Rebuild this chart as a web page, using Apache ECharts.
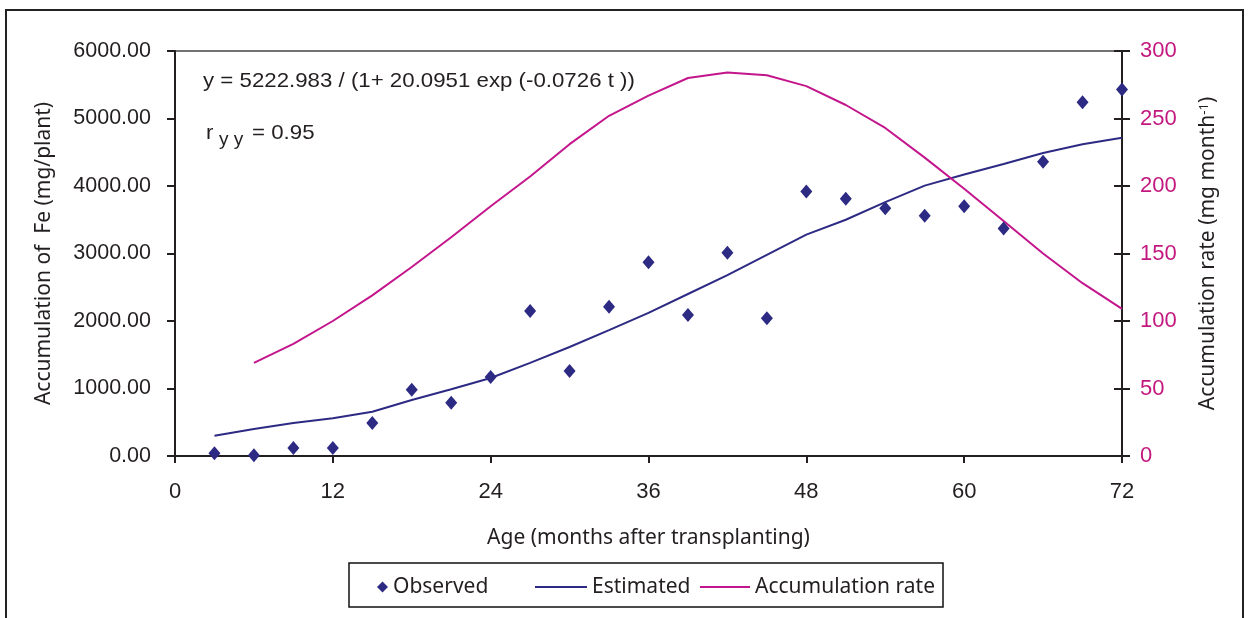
<!DOCTYPE html>
<html>
<head>
<meta charset="utf-8">
<script src="https://cdn.jsdelivr.net/npm/echarts@6/dist/echarts.min.js"></script>
<style>
html,body{margin:0;padding:0;background:#fff;}
#chart{width:1248px;height:618px;}
</style>
</head>
<body>
<div id="chart"></div>
<script>
// Age (months after transplanting)
const ages = [3, 6, 9, 12, 15, 18, 21, 24, 27, 30, 33, 36, 39, 42, 45, 48, 51, 54, 57, 60, 63, 66, 69, 72];
// Observed accumulation of Fe (mg/plant)
const observed = [40, 10, 120, 120, 490, 980, 790, 1170, 2150, 1260, 2210, 2870, 2090, 3010, 2040, 3920, 3810, 3670, 3560, 3700, 3370, 4360, 5240, 5430];
// Estimated accumulation of Fe (mg/plant)
const estimated = [300, 400, 490, 560, 655, 830, 990, 1155, 1380, 1615, 1865, 2120, 2400, 2680, 2980, 3280, 3500, 3760, 4005, 4170, 4325, 4490, 4620, 4715];
// Accumulation rate (mg month-1), starts at 6 months
const rate = [null, 69, 83, 100, 119, 140, 162, 185, 207, 231, 252, 267, 280, 284, 282, 274, 260, 243, 221, 198, 174, 150, 128, 109];
const xTicks = [0, 12, 24, 36, 48, 60, 72];
const leftTicks = [0, 1000, 2000, 3000, 4000, 5000, 6000];
const rightTicks = [0, 50, 100, 150, 200, 250, 300];

const NAVY = '#2d2a84';
const MAGENTA = '#c4168c';
const MAGENTA_TXT = '#c2187f';
const INK = '#231f20';
const ARIAL = '"Liberation Sans", Arial, sans-serif';
const MYRIAD = '"Noto Sans", "Open Sans", sans-serif';

const pairs = (ys) => ages.map((a, i) => [a, ys[i]]);

const chart = echarts.init(document.getElementById('chart'), null, {renderer: 'canvas'});
chart.setOption({
  animation: false,
  backgroundColor: '#fff',
  grid: {left: 175, right: 126, top: 51, bottom: 162, show: true, borderColor: '#444', borderWidth: 1.5, backgroundColor: 'transparent'},
  xAxis: {
    type: 'value', min: xTicks[0], max: xTicks[xTicks.length - 1], interval: 12,
    name: 'Age (months after transplanting)', nameLocation: 'middle', nameGap: 72,
    nameTextStyle: {fontFamily: MYRIAD, fontSize: 21, color: INK},
    axisLine: {lineStyle: {color: INK, width: 2}},
    axisTick: {inside: false, length: 7, lineStyle: {color: INK, width: 2}},
    axisLabel: {margin: 25, fontFamily: ARIAL, fontSize: 22, color: INK},
    splitLine: {show: false}
  },
  yAxis: [
    {
      type: 'value', position: 'left', min: leftTicks[0], max: leftTicks[leftTicks.length - 1], interval: 1000,
      name: 'Accumulation of  Fe (mg/plant)', nameLocation: 'middle', nameGap: 120, nameRotate: 90,
      nameTextStyle: {fontFamily: MYRIAD, fontSize: 21, color: INK},
      axisLine: {show: true, lineStyle: {color: INK, width: 2}},
      axisTick: {show: true, inside: false, length: 8, lineStyle: {color: INK, width: 2}},
      axisLabel: {margin: 24, fontFamily: ARIAL, fontSize: 21.5, color: INK, formatter: v => v.toFixed(2)},
      splitLine: {show: false}
    },
    {
      type: 'value', position: 'right', min: rightTicks[0], max: rightTicks[rightTicks.length - 1], interval: 50,
      name: 'Accumulation rate (mg month{sup|-1})', nameLocation: 'middle', nameGap: 76, nameRotate: 90,
      nameTextStyle: {fontFamily: MYRIAD, fontSize: 21, color: INK,
        rich: {sup: {fontFamily: MYRIAD, fontSize: 13, color: INK, verticalAlign: 'top', padding: [0, 0, 8, 0]}}},
      axisLine: {show: true, lineStyle: {color: INK, width: 2}},
      axisTick: {show: true, inside: false, length: 8, lineStyle: {color: INK, width: 2}},
      axisLabel: {margin: 18, fontFamily: ARIAL, fontSize: 22, color: MAGENTA_TXT},
      splitLine: {show: false}
    },
    {
      type: 'value', position: 'right', min: rightTicks[0], max: rightTicks[rightTicks.length - 1], interval: 50,
      axisLine: {show: false},
      axisTick: {show: true, inside: true, length: 8, lineStyle: {color: INK, width: 2}},
      axisLabel: {show: false},
      splitLine: {show: false}
    }
  ],
  legend: [
    {data: [{name: 'Observed', icon: 'diamond'}], left: 377, top: 575, padding: 0, itemWidth: 11, itemHeight: 11,
      itemStyle: {opacity: 1},
      textStyle: {fontFamily: MYRIAD, fontSize: 21, color: INK, lineHeight: 24}},
    {data: [{name: 'Estimated', icon: 'rect'}], left: 535, top: 575, padding: 0, itemWidth: 52, itemHeight: 2,
      textStyle: {fontFamily: MYRIAD, fontSize: 21, color: INK, lineHeight: 24}},
    {data: [{name: 'Accumulation rate', icon: 'rect'}], left: 700, top: 575, padding: 0, itemWidth: 50, itemHeight: 2,
      textStyle: {fontFamily: MYRIAD, fontSize: 21, color: INK, lineHeight: 24}}
  ],
  graphic: [
    {type: 'rect', shape: {x: 6, y: 10, width: 1237, height: 640}, style: {fill: 'none', stroke: '#222', lineWidth: 2}, silent: true},
    {type: 'rect', shape: {x: 349, y: 563, width: 594, height: 44}, style: {fill: 'none', stroke: '#111', lineWidth: 1.5}, silent: true},
    {type: 'text', x: 203, y: 81, scaleX: 1.06, style: {text: 'y = 5222.983 / (1+ 20.0951 exp (-0.0726 t ))', font: '21px "Liberation Sans", Arial, sans-serif', fill: INK, verticalAlign: 'middle'}},
    {type: 'text', x: 206, y: 133, scaleX: 1.06, style: {text: 'r', font: '21px "Liberation Sans", Arial, sans-serif', fill: INK, verticalAlign: 'middle'}},
    {type: 'text', x: 219, y: 140, scaleX: 1.06, style: {text: 'y y', font: '18px "Liberation Sans", Arial, sans-serif', fill: INK, verticalAlign: 'middle'}},
    {type: 'text', x: 252, y: 133, scaleX: 1.06, style: {text: '= 0.95', font: '21px "Liberation Sans", Arial, sans-serif', fill: INK, verticalAlign: 'middle'}}
  ],
  series: [
    {name: 'Estimated', type: 'line', yAxisIndex: 0, data: pairs(estimated), symbol: 'none', smooth: false,
      lineStyle: {color: NAVY, width: 2}, itemStyle: {color: NAVY}, z: 2},
    {name: 'Accumulation rate', type: 'line', yAxisIndex: 1, data: pairs(rate), symbol: 'none', smooth: false, connectNulls: false,
      lineStyle: {color: MAGENTA, width: 2}, itemStyle: {color: MAGENTA}, z: 2},
    {name: 'Observed', type: 'scatter', yAxisIndex: 0, data: pairs(observed), symbol: 'diamond', symbolSize: [12, 14],
      itemStyle: {color: NAVY, opacity: 1}, z: 5}
  ]
});
</script>
</body>
</html>
